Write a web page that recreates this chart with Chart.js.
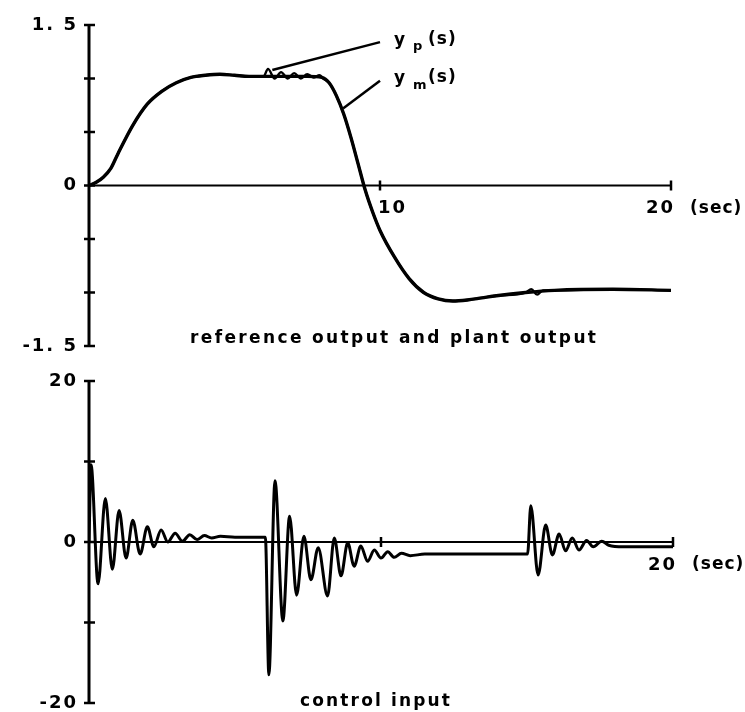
<!DOCTYPE html>
<html>
<head>
<meta charset="utf-8">
<script src="https://cdn.jsdelivr.net/npm/chart.js@4.4.0/dist/chart.umd.min.js"></script>
<style>
  body { margin: 0; background: #fff; }
  #wrap { position: relative; width: 745px; height: 712px; }
  #wrap canvas { position: absolute; left: 0; top: 0; }
</style>
</head>
<body>
<div id="wrap">
  <canvas id="outputs" width="745" height="712"></canvas>
  <canvas id="control" width="745" height="712"></canvas>
</div>
<script>
// reference model output y_m(s)
const tModel = [0, 0.25, 0.5, 0.75, 1.0, 1.5, 2.0, 2.5, 3.0, 3.5, 4.0, 4.5, 5.0, 5.5, 6.5, 7.5,
  8.0, 8.25, 8.5, 8.75, 9.0, 9.25, 9.5, 9.75, 10.0, 10.5, 11.0, 11.5, 12.0, 12.5, 13.0, 13.5,
  14.0, 15.0, 16.0, 18.0, 20.0];
const yModel = [0, 0.03, 0.08, 0.16, 0.3, 0.56, 0.76, 0.88, 0.96, 1.01, 1.03, 1.04, 1.03, 1.02, 1.02, 1.02,
  1.01, 0.96, 0.84, 0.67, 0.45, 0.2, -0.05, -0.25, -0.42, -0.67, -0.87, -1.0, -1.06, -1.08, -1.07, -1.05,
  -1.03, -1.0, -0.98, -0.97, -0.98];

// plant output y_p(s)
const tPlant = [0, 0.25, 0.5, 0.75, 1.0, 1.5, 2.0, 2.5, 3.0, 3.5, 4.0, 4.5, 5.0, 5.5, 6.0,
  6.15, 6.38, 6.6, 6.83, 7.05, 7.28, 7.5, 7.72, 7.92, 8.05, 8.25, 8.5, 8.75, 9.0, 9.25, 9.5, 9.75,
  10.0, 10.5, 11.0, 11.5, 12.0, 12.5, 13.0, 13.5, 14.0, 15.0, 15.2, 15.4, 15.6, 16.0, 18.0, 20.0];
const yPlant = [0, 0.03, 0.08, 0.16, 0.3, 0.56, 0.76, 0.88, 0.96, 1.01, 1.03, 1.04, 1.03, 1.02, 1.02,
  1.09, 1.0, 1.06, 1.0, 1.05, 1.0, 1.04, 1.01, 1.03, 1.0, 0.96, 0.84, 0.67, 0.45, 0.2, -0.05, -0.25,
  -0.42, -0.67, -0.87, -1.0, -1.06, -1.08, -1.07, -1.05, -1.03, -1.0, -0.97, -1.02, -0.98, -0.98, -0.97, -0.98];

// control input u(t)
const tControl = [0, 0.07, 0.31, 0.56, 0.8, 1.03, 1.27, 1.5, 1.75, 2.0, 2.22, 2.47, 2.7, 2.95, 3.2,
  3.45, 3.7, 3.95, 4.2, 4.5, 5.0, 6.04,
  6.16, 6.37, 6.64, 6.87, 7.11, 7.36, 7.6, 7.85, 8.17, 8.4, 8.63, 8.86, 9.08, 9.31, 9.54, 9.77,
  10.0, 10.23, 10.45, 10.7, 11.0, 11.5, 12.5, 15.02,
  15.13, 15.38, 15.64, 15.87, 16.1, 16.32, 16.55, 16.78, 17.04, 17.27, 17.56, 17.8, 18.3, 20];
const uControl = [0, 9.6, -5.2, 5.4, -3.4, 3.9, -2.0, 2.7, -1.5, 1.9, -0.6, 1.5, 0.0, 1.1, 0.1,
  0.9, 0.3, 0.8, 0.5, 0.7, 0.6, 0.6,
  -16.5, 7.6, -9.8, 3.2, -6.6, 0.7, -4.7, -0.7, -6.7, 0.5, -4.2, -0.1, -3.0, -0.5, -2.4, -1.0,
  -2.0, -1.2, -1.9, -1.4, -1.7, -1.5, -1.5, -1.5,
  4.5, -4.1, 2.1, -1.6, 1.0, -1.1, 0.5, -1.0, 0.2, -0.6, 0.1, -0.4, -0.6, -0.6];

// ticks and labels
const outTicks = [-1.5, -1.0, -0.5, 0, 0.5, 1.0, 1.5];
const outTickValues = [1.5, 0, -1.5];
const outTickLabels = ['1. 5', '0', '-1. 5'];
const ctrlTicks = [-20, -10, 0, 10, 20];
const ctrlTickValues = [20, 0, -20];
const ctrlTickLabels = ['20', '0', '-20'];

const FONT = '"DejaVu Sans", sans-serif';

function pts(xs, ys) { return xs.map((x, i) => ({ x: x, y: ys[i] })); }

function line(ctx, x1, y1, x2, y2) {
  ctx.beginPath(); ctx.moveTo(x1, y1); ctx.lineTo(x2, y2); ctx.stroke();
}

// spread text out to a given width
function spacedText(ctx, text, left, y, width) {
  ctx.letterSpacing = '0px';
  const w = ctx.measureText(text).width;
  ctx.letterSpacing = ((width - w) / (text.length - 1)) + 'px';
  ctx.textAlign = 'left';
  ctx.fillText(text, left, y);
  ctx.letterSpacing = '0px';
}

const plotAxes = {
  id: 'plotAxes',
  beforeDatasetsDraw(chart, args, o) {
    const ctx = chart.ctx, x = chart.scales.x, y = chart.scales.y;
    const x0 = x.getPixelForValue(0), y0 = y.getPixelForValue(0);
    ctx.save();
    ctx.strokeStyle = '#000';
    ctx.fillStyle = '#000';
    ctx.lineWidth = 3;
    line(ctx, x0, y.getPixelForValue(y.max), x0, y.getPixelForValue(y.min));
    ctx.lineWidth = 2.5;
    o.yTicks.forEach(v => { const p = y.getPixelForValue(v); line(ctx, x0 - 5, p, x0 + 6, p); });
    ctx.lineWidth = 2;
    line(ctx, x0, y0, x.getPixelForValue(x.max), y0);
    ctx.lineWidth = 2.5;
    o.xTicks.forEach(v => { const p = x.getPixelForValue(v); line(ctx, p, y0 - 5, p, y0 + 5); });

    ctx.font = 'bold 18px ' + FONT;
    ctx.textBaseline = 'middle';
    ctx.textAlign = 'right';
    ctx.letterSpacing = '2px';
    o.yValues.forEach((v, i) => ctx.fillText(o.yLabels[i], x0 - 11, y.getPixelForValue(v)));

    o.xLabels.forEach(l => {
      const p = x.getPixelForValue(l.value);
      ctx.font = 'bold 18px ' + FONT;
      ctx.letterSpacing = '2px';
      if (l.right) { ctx.textAlign = 'right'; ctx.fillText(l.text, p + 4, y0 + 23); }
      else { ctx.textAlign = 'left'; ctx.fillText(l.text, p - 2, y0 + 23); }
      if (l.unit) {
        ctx.font = 'bold 17px ' + FONT;
        ctx.letterSpacing = '1px';
        ctx.textAlign = 'left';
        ctx.fillText(l.unit, p + 19, y0 + 23);
      }
    });
    ctx.letterSpacing = '0px';

    ctx.font = 'bold 17px ' + FONT;
    spacedText(ctx, o.title.text, o.title.left, o.title.y, o.title.width);
    ctx.restore();
  },
  afterDatasetsDraw(chart, args, o) {
    if (!o.callouts) return;
    const ctx = chart.ctx, x = chart.scales.x, y = chart.scales.y;
    ctx.save();
    ctx.strokeStyle = '#000';
    ctx.fillStyle = '#000';
    ctx.lineWidth = 2.5;
    ctx.textBaseline = 'middle';
    ctx.textAlign = 'left';
    o.callouts.forEach(c => {
      const x1 = x.getPixelForValue(c.from[0]), y1 = y.getPixelForValue(c.from[1]);
      const x2 = x.getPixelForValue(c.to[0]), y2 = y.getPixelForValue(c.to[1]);
      line(ctx, x1, y1, x2, y2);
      ctx.font = 'bold 17px ' + FONT;
      ctx.fillText('y', x2 + 14, y2 - 2);
      ctx.font = 'bold 13px ' + FONT;
      ctx.fillText(c.sub, x2 + 33, y2 + 5);
      ctx.font = 'bold 17px ' + FONT;
      ctx.letterSpacing = '1px';
      ctx.fillText('(s)', x2 + 48, y2 - 3);
      ctx.letterSpacing = '0px';
    });
    ctx.restore();
  }
};

const lineStyle = { borderColor: '#000', pointRadius: 0, fill: false, cubicInterpolationMode: 'monotone' };

new Chart(document.getElementById('outputs'), {
  type: 'line',
  data: {
    datasets: [
      Object.assign({ label: 'y_m(s)', data: pts(tModel, yModel), borderWidth: 3.4 }, lineStyle),
      Object.assign({ label: 'y_p(s)', data: pts(tPlant, yPlant), borderWidth: 2.4 }, lineStyle)
    ]
  },
  options: {
    responsive: false,
    animation: false,
    events: [],
    layout: { padding: { left: 89, right: 74, top: 25, bottom: 366 } },
    scales: {
      x: { type: 'linear', min: 0, max: 20, display: false },
      y: { type: 'linear', min: -1.5, max: 1.5, display: false }
    },
    plugins: {
      legend: { display: false },
      tooltip: { enabled: false },
      plotAxes: {
        yTicks: outTicks, yValues: outTickValues, yLabels: outTickLabels,
        xTicks: [10, 20],
        xLabels: [{ value: 10, text: '10' }, { value: 20, text: '20', right: true, unit: '(sec)' }],
        title: { text: 'reference output and plant output', left: 190, y: 339, width: 406 },
        callouts: [
          { from: [6.3, 1.08], to: [10.0, 1.34], sub: 'p' },
          { from: [8.73, 0.72], to: [10.0, 0.98], sub: 'm' }
        ]
      }
    }
  },
  plugins: [plotAxes]
});

new Chart(document.getElementById('control'), {
  type: 'line',
  data: {
    datasets: [
      Object.assign({ label: 'u', data: pts(tControl, uControl), borderWidth: 3 }, lineStyle)
    ]
  },
  options: {
    responsive: false,
    animation: false,
    events: [],
    layout: { padding: { left: 89, right: 72, top: 381, bottom: 9 } },
    scales: {
      x: { type: 'linear', min: 0, max: 20, display: false },
      y: { type: 'linear', min: -20, max: 20, display: false }
    },
    plugins: {
      legend: { display: false },
      tooltip: { enabled: false },
      plotAxes: {
        yTicks: ctrlTicks, yValues: ctrlTickValues, yLabels: ctrlTickLabels,
        xTicks: [10, 20],
        xLabels: [{ value: 20, text: '20', right: true, unit: '(sec)' }],
        title: { text: 'control input', left: 300, y: 702, width: 150 }
      }
    }
  },
  plugins: [plotAxes]
});
</script>
</body>
</html>
